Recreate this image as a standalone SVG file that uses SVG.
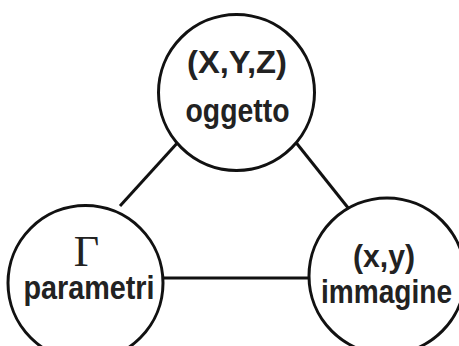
<svg xmlns="http://www.w3.org/2000/svg" width="459" height="346" viewBox="0 0 459 346">
  <style>
    .node { fill: #ffffff; stroke: #111111; stroke-width: 3; }
    .edge { stroke: #111111; stroke-width: 3; fill: none; }
    .lbl { font-family: "Liberation Sans", Arial, sans-serif; font-weight: bold; fill: #222222; text-anchor: middle; }
    .sym { font-family: "Liberation Serif", "Times New Roman", serif; fill: #222222; text-anchor: middle; }
  </style>
  <rect width="459" height="346" fill="#ffffff"/>
  <g id="connectors">
    <line class="edge" x1="180" y1="140" x2="120" y2="206"/>
    <line class="edge" x1="294" y1="140" x2="349" y2="209"/>
    <line class="edge" x1="163" y1="278" x2="309" y2="278"/>
  </g>
  <g id="oggetto">
    <circle class="node" cx="236.5" cy="92.5" r="78"/>
    <text class="lbl" x="237" y="73" font-size="32" textLength="100" lengthAdjust="spacingAndGlyphs">(X,Y,Z)</text>
    <text class="lbl" x="237.5" y="121.5" font-size="34" textLength="104" lengthAdjust="spacingAndGlyphs">oggetto</text>
  </g>
  <g id="parametri">
    <circle class="node" cx="85.5" cy="283" r="77.5"/>
    <text class="sym" x="86.5" y="266" font-size="44">Γ</text>
    <text class="lbl" x="89" y="299" font-size="34" textLength="131" lengthAdjust="spacingAndGlyphs">parametri</text>
  </g>
  <g id="immagine">
    <circle class="node" cx="387" cy="276" r="78"/>
    <text class="lbl" x="384" y="267" font-size="31" textLength="62" lengthAdjust="spacingAndGlyphs">(x,y)</text>
    <text class="lbl" x="386.5" y="303" font-size="34" textLength="131" lengthAdjust="spacingAndGlyphs">immagine</text>
  </g>
</svg>
